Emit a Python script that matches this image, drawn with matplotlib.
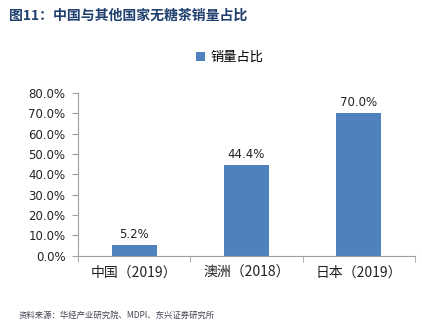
import matplotlib
matplotlib.use("Agg")
import matplotlib.pyplot as plt
import matplotlib.ticker as mticker
import numpy as np

plt.rcParams["font.family"] = ["Noto Sans CJK SC", "DejaVu Sans"]

categories = ["中国（2019）", "澳洲（2018）", "日本（2019）"]
share = [0.052, 0.444, 0.700]
series_name = "销量占比"
title = "图11：中国与其他国家无糖茶销量占比"
source = "资料来源：华经产业研究院、MDPI、东兴证券研究所"

bar_color = "#4F81BD"
axis_color = "#A0A0A0"

fig = plt.figure(figsize=(4.22, 3.28), dpi=100)
ax = fig.add_axes([0.185, 0.22, 0.798, 0.497])

x = np.arange(len(categories))
bars = ax.bar(x, share, width=0.4, color=bar_color, label=series_name)
for xi, v in zip(x, share):
    ax.text(xi, v + 0.02, f"{v * 100:.1f}%", ha="center", va="bottom",
            fontsize=8.5, family="DejaVu Sans", color="#222222")

ax.set_xlim(-0.5, len(categories) - 0.5)
ax.set_ylim(0, 0.8)
ax.yaxis.set_major_locator(mticker.MultipleLocator(0.1))
ax.yaxis.set_major_formatter(mticker.FuncFormatter(lambda v, _: f"{v * 100:.1f}%"))
for lab in ax.get_yticklabels():
    lab.set_family("DejaVu Sans")
ax.tick_params(axis="y", labelsize=8.5, length=4, color=axis_color, pad=5, labelcolor="#222222")

ax.set_xticks(x)
ax.set_xticklabels(categories, fontsize=10, color="#222222")
ax.tick_params(axis="x", length=0, pad=7)
ax.set_xticks(np.arange(len(categories) + 1) - 0.5, minor=True)
ax.tick_params(axis="x", which="minor", length=4, color=axis_color)

for s in ["top", "right"]:
    ax.spines[s].set_visible(False)
for s in ["left", "bottom"]:
    ax.spines[s].set_color(axis_color)

fig.legend(handles=[bars], labels=[series_name], loc="center", bbox_to_anchor=(0.545, 0.825),
           frameon=False, fontsize=9.5, handlelength=0.7, handleheight=0.7, handletextpad=0.4)

fig.text(0.022, 0.953, title, fontsize=10, fontweight="bold", color="#1F3F6E", va="center")
fig.text(0.045, 0.04, source, fontsize=6, style="italic", color="#444455", va="center")

fig.savefig("out.png", dpi=100)
